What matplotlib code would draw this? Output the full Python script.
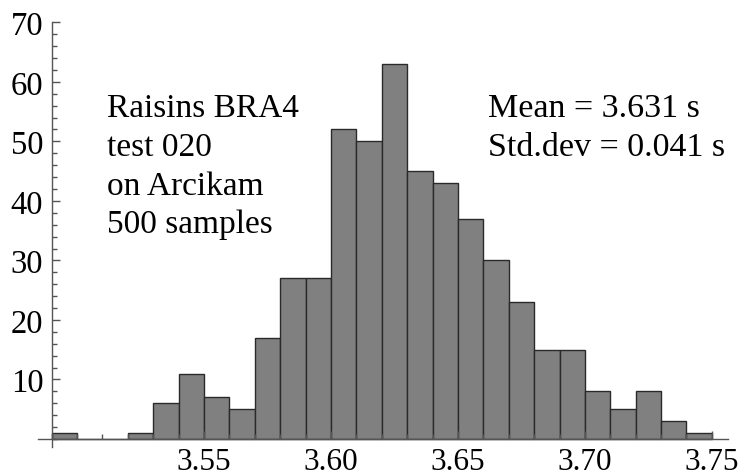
import numpy as np
import matplotlib.pyplot as plt
from matplotlib.ticker import MultipleLocator

# Histogram counts, bins of width 0.01 s starting at 3.49 s
bin_start = 3.49
bin_width = 0.01
counts = [1, 0, 0, 1, 6, 11, 7, 5, 17, 27, 27, 52, 50, 63,
          45, 43, 37, 30, 23, 15, 15, 8, 5, 8, 3, 1]

info_left = ["Raisins BRA4", "test 020", "on Arcikam", "500 samples"]
info_right = ["Mean = 3.631 s", "Std.dev = 0.041 s"]
x_ticks = [3.55, 3.60, 3.65, 3.70, 3.75]
y_ticks = [10, 20, 30, 40, 50, 60, 70]

plt.rcParams['font.family'] = ['Liberation Serif', 'DejaVu Serif']

fig = plt.figure(figsize=(7.45, 4.77), dpi=100)
ax = fig.add_axes([0.051, 0.0608, 0.926, 0.891])

edges = bin_start + bin_width * np.arange(len(counts))
ax.bar(edges, counts, width=bin_width, align='edge',
       color='#808080', edgecolor='#2a2a2a', linewidth=1.0)

ax.set_xlim(3.4846, 3.7563)
ax.set_ylim(-1.34, 70.05)

# axes crossing at the origin of the data, Mathematica style
for side in ['top', 'right']:
    ax.spines[side].set_visible(False)
ax.spines['left'].set_position(('data', bin_start))
ax.spines['bottom'].set_position(('data', 0))
for side in ['left', 'bottom']:
    ax.spines[side].set_color('#555555')
    ax.spines[side].set_linewidth(1.0)

ax.set_xticks(x_ticks)
ax.set_xticklabels(['%.2f' % t for t in x_ticks])
ax.xaxis.set_minor_locator(MultipleLocator(0.01))
ax.set_yticks(y_ticks)
ax.set_yticklabels([str(t) for t in y_ticks])
ax.yaxis.set_minor_locator(MultipleLocator(2))

ax.tick_params(which='both', direction='in', color='#555555', width=1.0,
               labelcolor='black')
ax.tick_params(axis='y', labelsize=23.5)
ax.tick_params(axis='x', labelsize=22.5)
ax.tick_params(which='major', length=6)
ax.tick_params(which='minor', length=3.5)
ax.tick_params(axis='x', which='major', pad=6)
ax.tick_params(axis='y', which='major', pad=6)

line_y = [54.2, 47.75, 41.2, 34.75]
for txt, y in zip(info_left, line_y):
    ax.text(3.5118, y, txt, fontsize=24, va='baseline', ha='left')
for txt, y in zip(info_right, line_y):
    ax.text(3.6618, y, txt, fontsize=24.5, va='baseline', ha='left')

fig.savefig('out.png', dpi=100)
